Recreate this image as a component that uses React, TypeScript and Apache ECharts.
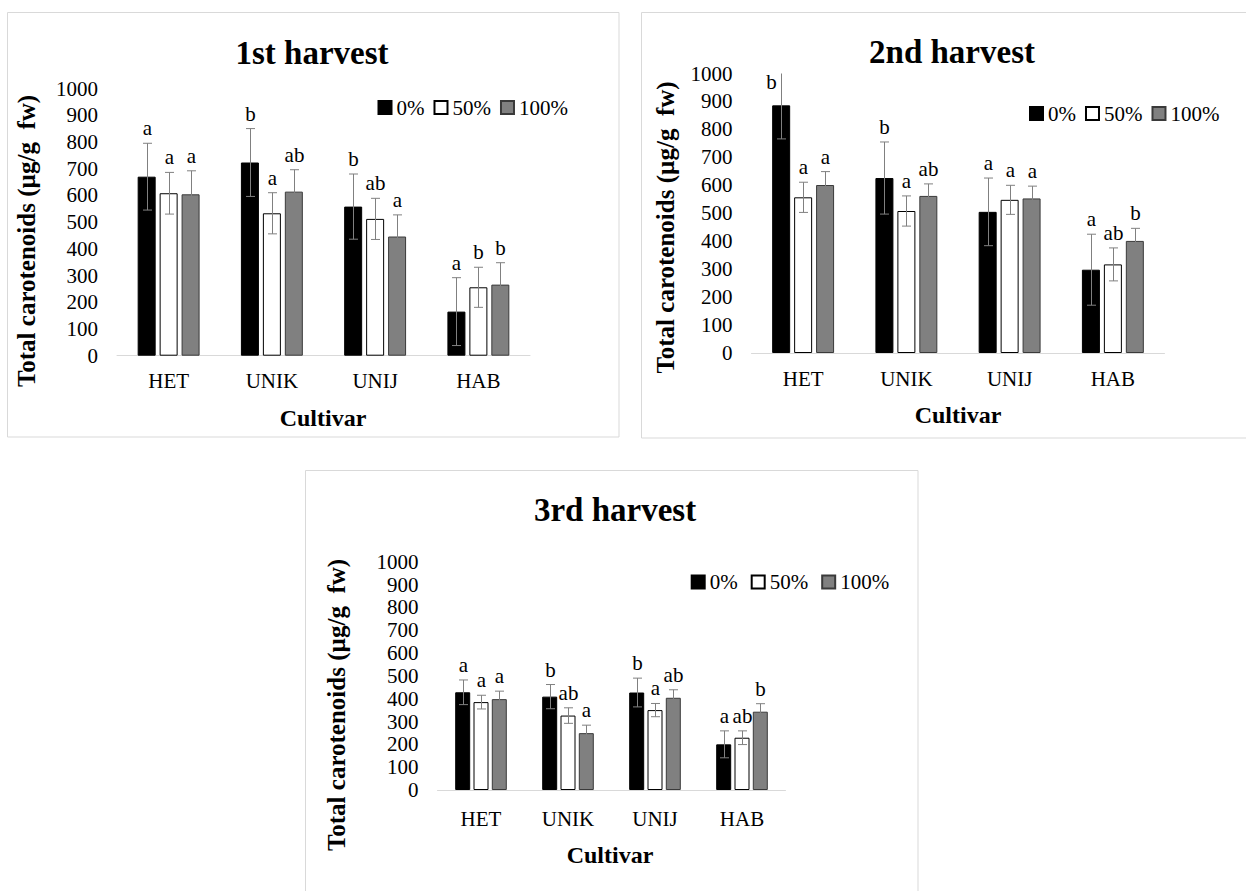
import React, { useEffect, useRef } from "react";
import * as echarts from "echarts";

const categories = ["HET", "UNIK", "UNIJ", "HAB"];
const levels = ["0%", "50%", "100%"];
const yTicks = [0, 100, 200, 300, 400, 500, 600, 700, 800, 900, 1000];

// 1st harvest
const h1Mean0 = [670, 723, 558, 165];
const h1Mean50 = [608, 533, 512, 256];
const h1Mean100 = [604, 614, 446, 266];
const h1Err0 = [125, 127, 122, 127];
const h1Err50 = [78, 77, 77, 75];
const h1Err100 = [88, 82, 81, 82];
const h1Let0 = ["a", "b", "b", "a"];
const h1Let50 = ["a", "a", "ab", "b"];
const h1Let100 = ["a", "ab", "a", "b"];

// 2nd harvest
const h2Mean0 = [886, 626, 505, 298];
const h2Mean50 = [557, 508, 548, 317];
const h2Mean100 = [601, 562, 553, 401];
const h2Err0 = [120, 129, 121, 127];
const h2Err50 = [54, 54, 52, 59];
const h2Err100 = [48, 43, 44, 45];
const h2Let0 = ["b", "b", "a", "a"];
const h2Let50 = ["a", "a", "a", "ab"];
const h2Let100 = ["a", "ab", "a", "b"];

// 3rd harvest
const h3Mean0 = [428, 409, 427, 200];
const h3Mean50 = [385, 326, 350, 229];
const h3Mean100 = [398, 249, 404, 343];
const h3Err0 = [54, 53, 63, 59];
const h3Err50 = [30, 34, 29, 30];
const h3Err100 = [35, 35, 35, 35];
const h3Let0 = ["a", "b", "b", "a"];
const h3Let50 = ["a", "ab", "a", "ab"];
const h3Let100 = ["a", "a", "ab", "b"];

const titles = ["1st harvest", "2nd harvest", "3rd harvest"];
const yTitle = "Total carotenoids (\u00b5g/g  fw)";
const xTitle = "Cultivar";

const SERIF = "Liberation Serif";

const panelData = [
  { means: [h1Mean0, h1Mean50, h1Mean100], errs: [h1Err0, h1Err50, h1Err100], lets: [h1Let0, h1Let50, h1Let100] },
  { means: [h2Mean0, h2Mean50, h2Mean100], errs: [h2Err0, h2Err50, h2Err100], lets: [h2Let0, h2Let50, h2Let100] },
  { means: [h3Mean0, h3Mean50, h3Mean100], errs: [h3Err0, h3Err50, h3Err100], lets: [h3Let0, h3Let50, h3Let100] },
];

// layout (pixels)
const layout = [
  {
    grid: { left: 117, top: 88.5, width: 413, height: 267.2 },
    bw: 18, gap: 0.22, xMargin: 15,
    border: [7.5, 12.5, 611.5, 424.5],
    title: [312, 53], cult: [323, 418], ytitle: [26, 241],
    legend: { left: 372.5, top: 92, gap: 9 },
  },
  {
    grid: { left: 751.5, top: 73.5, width: 413, height: 279.5 },
    bw: 18, gap: 0.22, xMargin: 15,
    border: [641.5, 12.5, 620, 425.5],
    title: [952, 52], cult: [958, 415], ytitle: [665, 227.5],
    legend: { left: 1024, top: 98, gap: 9 },
  },
  {
    grid: { left: 437.5, top: 561.7, width: 348, height: 228.3 },
    bw: 15, gap: 0.22, xMargin: 18,
    border: [305.5, 470.5, 612.5, 430],
    title: [615, 510], cult: [610, 855], ytitle: [336, 705],
    legend: { left: 685.7, top: 566.5, gap: 13 },
  },
];

const barStyles = [
  { color: "#000000", borderColor: "#000000", borderWidth: 1 },
  { color: "#ffffff", borderColor: "#000000", borderWidth: 1 },
  { color: "#808080", borderColor: "#3a3a3a", borderWidth: 1 },
];

function txt(text: string, x: number, y: number, font: string, rotation = 0) {
  return {
    type: "text",
    x,
    y,
    rotation,
    style: {
      text,
      fill: "#000",
      font,
      align: "center",
      verticalAlign: "middle",
      textAlign: "center",
      textVerticalAlign: "middle",
    },
  };
}

export default function App() {
  const ref = useRef<HTMLDivElement>(null);
  useEffect(() => {
    if (!ref.current) return;
    const chart = echarts.init(ref.current, undefined, { renderer: "svg" });

    const grids: any[] = [];
    const xAxes: any[] = [];
    const yAxes: any[] = [];
    const legends: any[] = [];
    const series: any[] = [];
    const graphics: any[] = [];

    layout.forEach((L, p) => {
      grids.push({ ...L.grid, containLabel: false });
      xAxes.push({
        type: "category",
        gridIndex: p,
        data: categories,
        axisLine: { show: true, lineStyle: { color: "#d9d9d9", width: 1 } },
        axisTick: { show: false },
        axisLabel: { fontFamily: SERIF, fontSize: 21, color: "#000", margin: L.xMargin },
        splitLine: { show: false },
      });
      yAxes.push({
        type: "value",
        gridIndex: p,
        min: yTicks[0],
        max: yTicks[yTicks.length - 1],
        interval: yTicks[1] - yTicks[0],
        axisLine: { show: false },
        axisTick: { show: false },
        splitLine: { show: false },
        axisLabel: {
          fontFamily: SERIF,
          fontSize: 21,
          color: "#000",
          margin: 19,
          formatter: (v: number) => String(v),
        },
      });
      legends.push({
        left: L.legend.left,
        top: L.legend.top,
        orient: "horizontal",
        itemWidth: 13,
        itemHeight: 13,
        itemGap: L.legend.gap,
        icon: "rect",
        data: levels,
        textStyle: { fontFamily: SERIF, fontSize: 21, color: "#000" },
        selectedMode: false,
      });

      const D = panelData[p];
      levels.forEach((lv, i) => {
        series.push({
          type: "bar",
          name: lv,
          xAxisIndex: p,
          yAxisIndex: p,
          barWidth: L.bw,
          barGap: Math.round(L.gap * 100) + "%",
          itemStyle: barStyles[i],
          data: D.means[i],
          z: 2,
        });
      });
      levels.forEach((lv, i) => {
        const lets = D.lets[i];
        const step = L.bw * (1 + L.gap);
        const off = (i - 1) * step;
        series.push({
          type: "custom",
          name: "err-" + p + "-" + i,
          xAxisIndex: p,
          yAxisIndex: p,
          z: 5,
          data: categories.map((c, k) => [k, D.means[i][k], D.errs[i][k]]),
          renderItem: (params: any, api: any) => {
            const ci = api.value(0);
            const v = api.value(1);
            const e = api.value(2);
            const c = api.coord([ci, v]);
            const x = Math.round(c[0] + off) + 0.5;
            const clipped = v + e > 1000;
            const topY = api.coord([ci, Math.min(v + e, 1000)])[1];
            const botY = api.coord([ci, v - e])[1];
            const cap = 4.5;
            const st = { stroke: "#808080", lineWidth: 1 };
            const children: any[] = [
              { type: "line", shape: { x1: x, y1: topY, x2: x, y2: botY }, style: st },
              { type: "line", shape: { x1: x - cap, y1: botY, x2: x + cap, y2: botY }, style: st },
            ];
            if (!clipped) {
              children.push({ type: "line", shape: { x1: x - cap, y1: topY, x2: x + cap, y2: topY }, style: st });
            }
            const lx = clipped ? x - 10 : x;
            const ly = clipped ? api.coord([ci, 970])[1] : topY - 15;
            children.push({
              type: "text",
              style: {
                text: lets[params.dataIndex],
                x: lx,
                y: ly,
                fill: "#000",
                font: "21px Liberation Serif",
                align: "center",
                verticalAlign: "middle",
                textAlign: "center",
                textVerticalAlign: "middle",
              },
            });
            return { type: "group", children };
          },
        });
      });

      const [bx, by, bw, bh] = L.border;
      graphics.push({
        type: "rect",
        shape: { x: bx, y: by, width: bw, height: bh },
        style: { fill: "none", stroke: "#d9d9d9", lineWidth: 1 },
        z: 0,
      });
      graphics.push(txt(titles[p], L.title[0], L.title[1], "bold 33px Liberation Serif"));
      graphics.push(txt(xTitle, L.cult[0], L.cult[1], "bold 24px Liberation Serif"));
      graphics.push(txt(yTitle, L.ytitle[0], L.ytitle[1], "bold 25px Liberation Serif", Math.PI / 2));
    });

    chart.setOption({
      animation: false,
      backgroundColor: "#ffffff",
      grid: grids,
      xAxis: xAxes,
      yAxis: yAxes,
      legend: legends,
      series,
      graphic: graphics,
    });
    return () => chart.dispose();
  }, []);

  return (
    <div
      ref={ref}
      style={{ position: "absolute", left: 0, top: 0, width: 1246, height: 891, background: "#fff" }}
    />
  );
}
